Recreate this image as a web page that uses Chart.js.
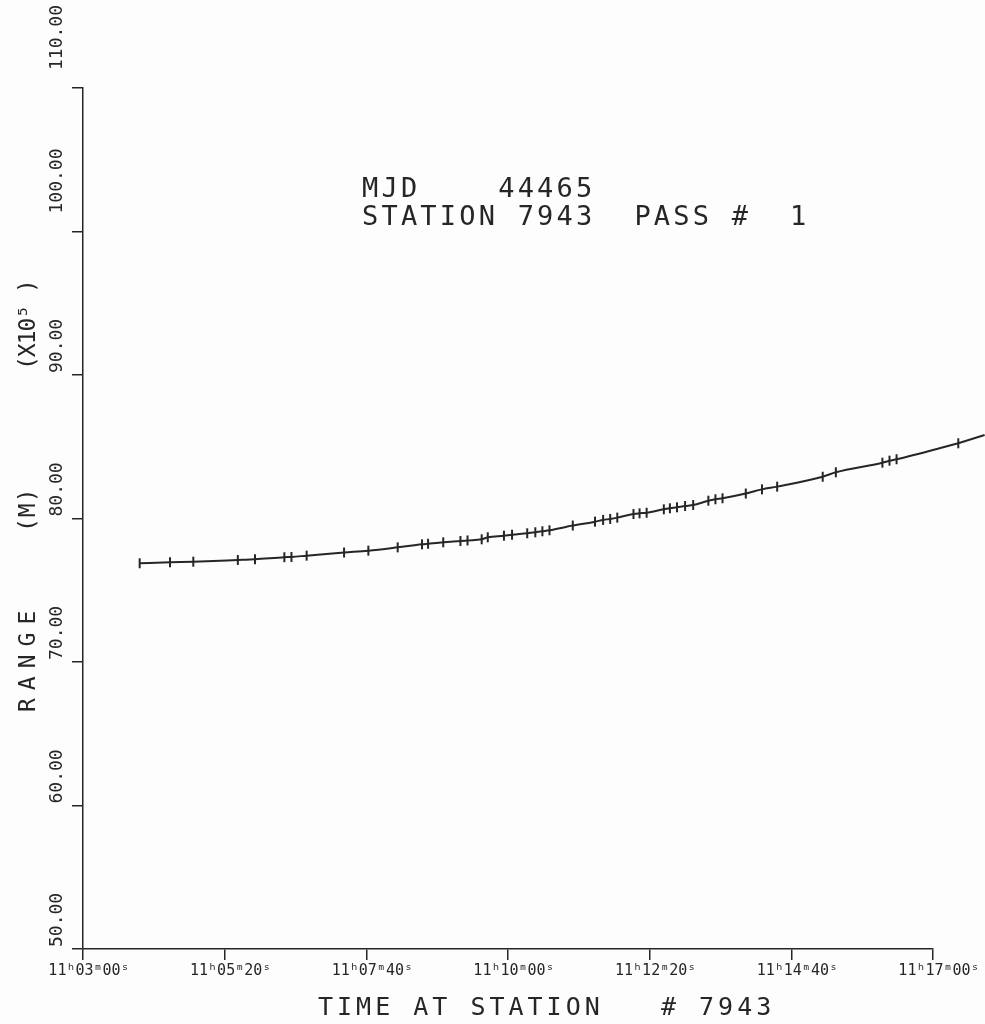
<!DOCTYPE html>
<html>
<head>
<meta charset="utf-8">
<title>Range vs time at station 7943</title>
<script src="https://cdn.jsdelivr.net/npm/chart.js@4.4.0/dist/chart.umd.min.js"></script>
<style>
  html, body { margin: 0; padding: 0; background: #fdfdfd; }
  #wrap { width: 985px; height: 1024px; }
</style>
</head>
<body>
<div id="wrap"><canvas id="rangeChart" width="985" height="1024"></canvas></div>
<script>
// ── DATA ─────────────────────────────────────────

// time axis starts at 11h03m00s, values below are seconds after that
const T0 = 11 * 3600 + 3 * 60;

const TIME_S = [
   56,  86, 109, 153, 170, 199, 206, 221, 258, 282,
  311, 335, 341, 356, 373, 380, 394, 400, 416, 424,
  439, 447, 454, 461, 484, 506, 514, 521, 528, 544,
  550, 557, 574, 580, 587, 595, 603, 618, 625, 632,
  655, 671, 686, 731, 744, 790, 797, 804, 865
];

// range, units of 1e5 m
const RANGE = [
  76.88, 76.95, 76.99, 77.11, 77.16, 77.30, 77.32, 77.41, 77.63, 77.76,
  77.99, 78.20, 78.24, 78.34, 78.43, 78.47, 78.55, 78.69, 78.80, 78.87,
  78.97, 79.04, 79.11, 79.18, 79.51, 79.78, 79.90, 79.97, 80.06, 80.31,
  80.36, 80.40, 80.64, 80.71, 80.78, 80.87, 80.94, 81.24, 81.34, 81.41,
  81.74, 82.03, 82.22, 82.91, 83.22, 83.89, 84.03, 84.13, 85.24
];

// the plotted curve runs on past the last point, off the right edge
const TAIL_TIME  = [865, 891];
const TAIL_RANGE = [85.24, 85.82];

const X_TICKS = [0, 140, 280, 420, 560, 700, 840];
const Y_TICKS = [50, 60, 70, 80, 90, 100, 110];

const HEADER = ["MJD    44465", "STATION 7943  PASS #  1"];
const X_TITLE = "TIME AT STATION   # 7943";

// ── HELPERS ──────────────────────────────────────

const INK = "#262626";
const MONO = "'DejaVu Sans Mono', monospace";

function pad2(n) { return String(n).padStart(2, "0"); }

function hms(sec) {
  const t = T0 + sec;
  const h = Math.floor(t / 3600);
  const m = Math.floor((t % 3600) / 60);
  const s = t % 60;
  return h + "ʰ" + pad2(m) + "ᵐ" + pad2(s) + "ˢ";
}

function spacedText(ctx, str, x, y, spacing) {
  ctx.letterSpacing = spacing + "px";
  ctx.fillText(str, x, y);
  ctx.letterSpacing = "0px";
}

// ── TEXT PLUGIN (rotated labels, titles) ─────────

const plotterText = {
  id: "plotterText",
  beforeDraw(chart) {
    const c = chart.ctx;
    c.save();
    c.fillStyle = "#fdfdfd";
    c.fillRect(0, 0, chart.width, chart.height);
    c.restore();
  },
  afterDatasetsDraw(chart) {
    // markers past the time axis end are skipped by Chart.js, draw them too
    const full = { left: 0, top: 0, right: chart.width, bottom: chart.height };
    chart.getDatasetMeta(0).data.forEach(pt => {
      if (pt.x > chart.chartArea.right && pt.x <= chart.width) pt.draw(chart.ctx, full);
    });
  },
  afterDraw(chart) {
    const c = chart.ctx;
    const ys = chart.scales.y;
    c.save();
    c.fillStyle = INK;
    c.textAlign = "left";
    c.textBaseline = "alphabetic";

    // y tick labels, rotated, reading upwards from the tick
    c.font = "18px " + MONO;
    ys.ticks.forEach(t => {
      const label = t.value.toFixed(2);
      const py = ys.getPixelForValue(t.value) - 2 - (label.length - 5) * 16;
      c.save();
      c.translate(62, py);
      c.rotate(-Math.PI / 2);
      spacedText(c, label, 0, 0, 0);
      c.restore();
    });

    // y title
    c.font = "23px " + MONO;
    const yTitle = [["RANGE", 712, 8], ["(M)", 532, 1], ["(X10⁵ )", 370, -1]];
    yTitle.forEach(([s, y, sp]) => {
      c.save();
      c.translate(35, y);
      c.rotate(-Math.PI / 2);
      spacedText(c, s, 0, 0, sp);
      c.restore();
    });

    // x title
    c.font = "25px " + MONO;
    spacedText(c, X_TITLE, 318, 1015, 4);

    // header
    c.font = "27px " + MONO;
    spacedText(c, HEADER[0], 362, 197, 3.2);
    spacedText(c, HEADER[1], 362, 225, 3.2);

    c.restore();
  }
};

// ── CHART ────────────────────────────────────────

function buildChart() {
  const ctx = document.getElementById("rangeChart").getContext("2d");
  const points = TIME_S.map((t, i) => ({ x: t, y: RANGE[i] }));
  const tail = TAIL_TIME.map((t, i) => ({ x: t, y: TAIL_RANGE[i] }));

  const axisGrid = {
    drawOnChartArea: false,
    drawTicks: true,
    tickLength: 11,
    color: INK,
    lineWidth: 1.5,
  };

  new Chart(ctx, {
    type: "line",
    data: {
      datasets: [
        {
          data: points,
          borderColor: INK,
          borderWidth: 2,
          cubicInterpolationMode: "monotone",
          pointStyle: "line",
          pointRotation: 90,
          pointRadius: 5,
          pointBorderWidth: 2,
          pointBorderColor: INK,
          clip: false,
        },
        {
          data: tail,
          borderColor: INK,
          borderWidth: 2,
          pointRadius: 0,
          clip: false,
        },
      ],
    },
    options: {
      animation: false,
      responsive: false,
      layout: { padding: { top: 88, right: 52, left: 0, bottom: 0 } },
      plugins: {
        legend: { display: false },
        tooltip: { enabled: false },
      },
      scales: {
        x: {
          type: "linear",
          bounds: "data",
          afterDataLimits: s => { s.min = X_TICKS[0]; s.max = X_TICKS[X_TICKS.length - 1]; },
          afterBuildTicks: s => { s.ticks = X_TICKS.map(v => ({ value: v })); },
          afterFit: s => { s.height = 75; },
          grid: axisGrid,
          border: { color: INK, width: 1.5 },
          ticks: {
            callback: v => hms(v),
            color: INK,
            font: { family: MONO, size: 15 },
            padding: 2,
            labelOffset: 6,
            maxRotation: 0,
            autoSkip: false,
          },
        },
        y: {
          bounds: "data",
          min: Y_TICKS[0],
          max: Y_TICKS[Y_TICKS.length - 1],
          afterBuildTicks: s => { s.ticks = Y_TICKS.map(v => ({ value: v })); },
          afterFit: s => { s.width = 83; },
          grid: axisGrid,
          border: { color: INK, width: 1.5 },
          ticks: { display: false },
        },
      },
    },
    plugins: [plotterText],
  });
}

buildChart();
</script>
</body>
</html>
